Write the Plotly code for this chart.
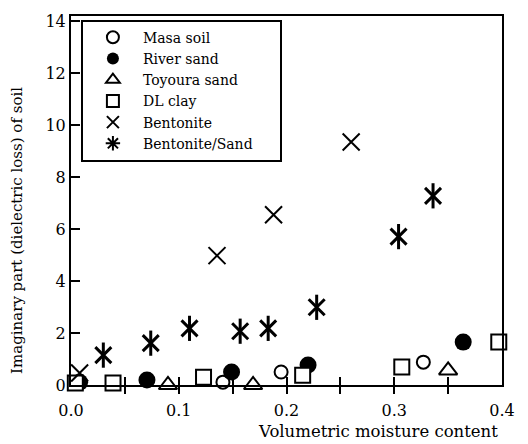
import plotly.graph_objects as go

# ---- data ----
masa_x = [0.008, 0.141, 0.195, 0.327]
masa_y = [0.11, 0.11, 0.50, 0.88]
river_x = [0.008, 0.0705, 0.149, 0.220, 0.364]
river_y = [0.11, 0.19, 0.50, 0.77, 1.65]
toyoura_x = [0.090, 0.169, 0.350]
toyoura_y = [0.0, 0.0, 0.56]
dl_x = [0.004, 0.039, 0.123, 0.215, 0.307, 0.397]
dl_y = [0.08, 0.08, 0.30, 0.38, 0.69, 1.65]
bent_x = [0.008, 0.1355, 0.188, 0.260]
bent_y = [0.46, 4.98, 6.55, 9.35]
bs_x = [0.030, 0.074, 0.110, 0.157, 0.183, 0.228, 0.304, 0.336]
bs_y = [1.15, 1.61, 2.18, 2.07, 2.18, 2.99, 5.71, 7.28]

x_labelvals = [0.0, 0.1, 0.2, 0.3, 0.4]
x_labeltext = ["0.0", "0.1", "0.2", "0.3", "0.4"]
x_tickvals = [0.05, 0.1, 0.15, 0.2, 0.25, 0.3, 0.35]
y_tickvals = [0, 2, 4, 6, 8, 10, 12, 14]
y_ticktext = ["0", "2", "4", "6", "8", "10", "12", "14"]

FONT = "DejaVu Serif"
BLACK = "#000000"
PAD = "\u00a0" * 5

fig = go.Figure()

fig.add_trace(go.Scatter(x=masa_x, y=masa_y, mode="markers", name="Masa soil",
                         marker=dict(symbol="circle-open", size=13, color=BLACK, line=dict(width=2, color=BLACK)),
                         cliponaxis=False))
fig.add_trace(go.Scatter(x=river_x, y=river_y, mode="markers", name="River sand",
                         marker=dict(symbol="circle", size=17, color=BLACK, line=dict(width=0)),
                         cliponaxis=False))
fig.add_trace(go.Scatter(x=toyoura_x, y=toyoura_y, mode="markers", name="Toyoura sand",
                         marker=dict(symbol="triangle-up", size=16, color="white", line=dict(width=2, color=BLACK)),
                         cliponaxis=False))
fig.add_trace(go.Scatter(x=dl_x, y=dl_y, mode="markers", name="DL clay",
                         marker=dict(symbol="square", size=15, color="white", line=dict(width=2, color=BLACK)),
                         cliponaxis=False))
fig.add_trace(go.Scatter(x=bent_x, y=bent_y, mode="markers", name="Bentonite",
                         marker=dict(symbol="x-thin-open", size=17, color=BLACK, line=dict(width=2, color=BLACK)),
                         cliponaxis=False))
# Bentonite/Sand asterisk = diagonal cross + vertical bar, legend entry shows an asterisk
fig.add_trace(go.Scatter(x=bs_x, y=bs_y, mode="markers", name="Bentonite/Sand", showlegend=False,
                         legendgroup="bs", xaxis="x3",
                         marker=dict(symbol="x-thin-open", size=16, color=BLACK, line=dict(width=3, color=BLACK)),
                         cliponaxis=False))
fig.add_trace(go.Scatter(x=bs_x, y=bs_y, mode="markers", name="Bentonite/Sand", showlegend=False,
                         legendgroup="bs", xaxis="x2",
                         marker=dict(symbol="line-ns-open", size=18, color=BLACK, line=dict(width=3, color=BLACK)),
                         cliponaxis=False))
fig.add_trace(go.Scatter(x=[None], y=[None], mode="markers", name="Bentonite/Sand" + PAD,
                         legendgroup="bs",
                         marker=dict(symbol="asterisk-open", size=12, color=BLACK, line=dict(width=3, color=BLACK))))

fig.update_layout(
    width=528, height=444,
    margin=dict(l=71, r=26, t=14, b=59),
    paper_bgcolor="white", plot_bgcolor="white",
    font=dict(family=FONT, color=BLACK, size=16),
    showlegend=True,
    legend=dict(x=0.023, y=0.99, xanchor="left", yanchor="top",
                bordercolor=BLACK, borderwidth=2, bgcolor="white",
                font=dict(family=FONT, size=14, color=BLACK),
                itemsizing="constant", itemwidth=50,
                traceorder="normal"),
    # labels only
    xaxis=dict(range=[0, 0.4], tickmode="array", tickvals=x_labelvals, ticktext=x_labeltext,
               ticks="", showline=True, linewidth=2, linecolor=BLACK, mirror=True,
               showgrid=False, zeroline=False,
               tickfont=dict(family=FONT, size=16, color=BLACK),
               ticklabelstandoff=10),
    # inner half of the crossing ticks
    xaxis2=dict(range=[0, 0.4], overlaying="x", anchor="y", side="bottom",
                tickmode="array", tickvals=x_tickvals, ticks="inside", ticklen=8, tickwidth=2, tickcolor=BLACK,
                showticklabels=False, showline=False, showgrid=False, zeroline=False),
    # outer half of the crossing ticks
    xaxis3=dict(range=[0, 0.4], overlaying="x", anchor="y", side="bottom",
                tickmode="array", tickvals=x_tickvals, ticks="outside", ticklen=8, tickwidth=2, tickcolor=BLACK,
                showticklabels=False, showline=False, showgrid=False, zeroline=False),
    yaxis=dict(range=[0, 14.2], tickmode="array", tickvals=y_tickvals, ticktext=y_ticktext,
               ticks="inside", ticklen=9, tickwidth=2, tickcolor=BLACK,
               showline=True, linewidth=2, linecolor=BLACK, mirror=True,
               showgrid=False, zeroline=False,
               tickfont=dict(family=FONT, size=16, color=BLACK)),
    annotations=[
        dict(text="Imaginary part (dielectric loss) of soil", xref="paper", yref="paper",
             x=-0.125, y=0.418, xanchor="center", yanchor="middle", textangle=-90,
             showarrow=False, font=dict(family=FONT, size=15, color=BLACK)),
        dict(text="Volumetric moisture content", xref="paper", yref="paper",
             x=0.712, y=-0.127, xanchor="center", yanchor="middle",
             showarrow=False, font=dict(family=FONT, size=16.5, color=BLACK)),
    ],
)

fig.write_html("out.html")
